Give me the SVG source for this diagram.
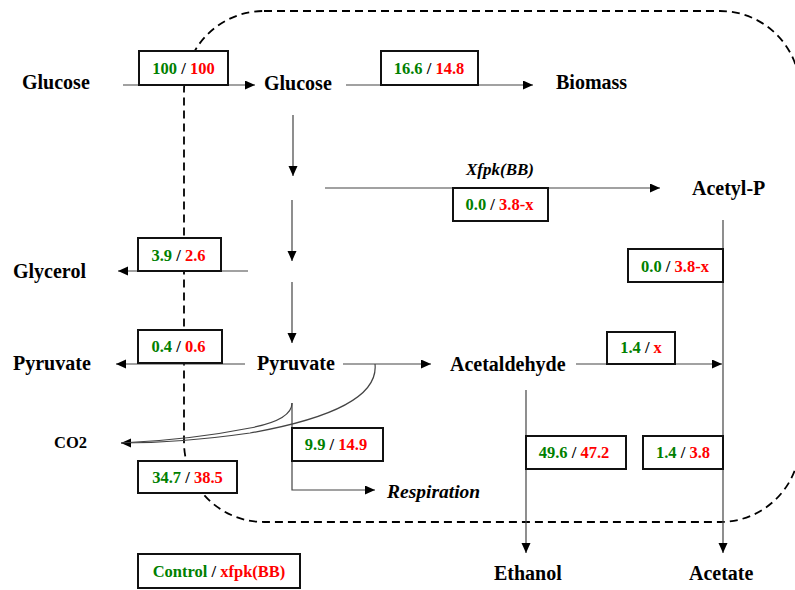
<svg xmlns="http://www.w3.org/2000/svg" width="795" height="590" viewBox="0 0 795 590">
<defs>
<style>
.lbl{font-family:"Liberation Serif","Times New Roman",serif;font-weight:bold;font-size:20px;fill:#000}
.it{font-style:italic;font-size:17px}
.num{font-family:"Liberation Serif","Times New Roman",serif;font-weight:bold;font-size:16.5px;text-anchor:middle;fill:#000}
.g{fill:#008000}
.r{fill:#ff0000}
.box{fill:#fff;stroke:#111;stroke-width:2}
.ln{fill:none;stroke:#444;stroke-width:1.2}
.cell{fill:none;stroke:#000;stroke-width:1.8;stroke-dasharray:8 5}
</style>
<marker id="ah" markerUnits="userSpaceOnUse" markerWidth="10" markerHeight="10" refX="10" refY="4.5" orient="auto">
<path d="M0,0 L10,4.5 L0,9 z" fill="#000"/>
</marker>
</defs>
<rect width="795" height="590" fill="#fff"/>
<rect id="cell" class="cell" x="184" y="11" width="616" height="511" rx="80" ry="80"/>
<g id="connectors">
<line class="ln" x1="123" y1="85" x2="255" y2="85" marker-end="url(#ah)"/>
<line class="ln" x1="346" y1="85" x2="533" y2="85" marker-end="url(#ah)"/>
<line class="ln" x1="293" y1="115" x2="293" y2="176" marker-end="url(#ah)"/>
<line class="ln" x1="325" y1="188" x2="660" y2="188" marker-end="url(#ah)"/>
<line class="ln" x1="292" y1="200" x2="292" y2="261" marker-end="url(#ah)"/>
<line class="ln" x1="292" y1="282" x2="292" y2="343" marker-end="url(#ah)"/>
<line class="ln" x1="248" y1="271" x2="118" y2="271" marker-end="url(#ah)"/>
<line class="ln" x1="245" y1="364" x2="116" y2="364" marker-end="url(#ah)"/>
<line class="ln" x1="343" y1="364" x2="431" y2="364" marker-end="url(#ah)"/>
<line class="ln" x1="576" y1="364" x2="722" y2="364" marker-end="url(#ah)"/>
<line class="ln" x1="723" y1="220" x2="723" y2="553" marker-end="url(#ah)"/>
<line class="ln" x1="526" y1="390" x2="526" y2="553" marker-end="url(#ah)"/>
<path class="ln" d="M292,403 L292,490 L375,490" marker-end="url(#ah)"/>
<path class="ln" d="M375,364 Q380,410 250,433 Q180,443 121,443" marker-end="url(#ah)"/>
<path class="ln" d="M292,403 Q292,420 250,428 Q190,440 121,443"/>
</g>
<g id="glucose-ext"><text class="lbl" x="22" y="89">Glucose</text></g>
<g id="glucose-int"><text class="lbl" x="264" y="90">Glucose</text></g>
<g id="biomass"><text class="lbl" x="556" y="89">Biomass</text></g>
<g id="acetyl-p"><text class="lbl" x="692" y="195">Acetyl-P</text></g>
<g id="glycerol"><text class="lbl" x="13" y="278">Glycerol</text></g>
<g id="pyruvate-ext"><text class="lbl" x="13" y="370">Pyruvate</text></g>
<g id="pyruvate-int"><text class="lbl" x="257" y="370">Pyruvate</text></g>
<g id="acetaldehyde"><text class="lbl" x="450" y="371">Acetaldehyde</text></g>
<g id="co2"><text class="lbl" x="54" y="448" style="font-size:16.5px">CO2</text></g>
<g id="respiration"><text class="lbl it" x="387" y="498" style="font-size:19.5px">Respiration</text></g>
<g id="ethanol"><text class="lbl" x="494" y="580">Ethanol</text></g>
<g id="acetate"><text class="lbl" x="689" y="580">Acetate</text></g>
<g id="xfpk-label"><text class="lbl it" x="466" y="175">Xfpk(BB)</text></g>
<g id="f-uptake"><rect class="box" x="139" y="51" width="89" height="34"/><text class="num" x="183.5" y="74"><tspan class="g">100</tspan> / <tspan class="r">100</tspan></text></g>
<g id="f-biomass"><rect class="box" x="381" y="51" width="97" height="34"/><text class="num" x="429" y="74"><tspan class="g">16.6</tspan> / <tspan class="r">14.8</tspan></text></g>
<g id="f-xfpk"><rect class="box" x="453" y="188" width="95" height="33"/><text class="num" x="499.5" y="210"><tspan class="g">0.0</tspan> / <tspan class="r">3.8-x</tspan></text></g>
<g id="f-acetylp"><rect class="box" x="628" y="249" width="95" height="33"/><text class="num" x="675" y="272"><tspan class="g">0.0</tspan> / <tspan class="r">3.8-x</tspan></text></g>
<g id="f-glycerol"><rect class="box" x="138" y="238" width="83" height="33"/><text class="num" x="178.5" y="261"><tspan class="g">3.9</tspan> / <tspan class="r">2.6</tspan></text></g>
<g id="f-pyruvate"><rect class="box" x="138" y="330" width="84" height="33"/><text class="num" x="178.5" y="352"><tspan class="g">0.4</tspan> / <tspan class="r">0.6</tspan></text></g>
<g id="f-acald"><rect class="box" x="607" y="332" width="68" height="32"/><text class="num" x="641" y="353"><tspan class="g">1.4</tspan> / <tspan class="r">x</tspan></text></g>
<g id="f-resp"><rect class="box" x="292" y="428" width="91" height="33"/><text class="num" x="336" y="450"><tspan class="g">9.9</tspan> / <tspan class="r">14.9</tspan></text></g>
<g id="f-co2"><rect class="box" x="138" y="461" width="99" height="32"/><text class="num" x="187.5" y="483"><tspan class="g">34.7</tspan> / <tspan class="r">38.5</tspan></text></g>
<g id="f-ethanol"><rect class="box" x="526" y="436" width="100" height="33"/><text class="num" x="574" y="458"><tspan class="g">49.6</tspan> / <tspan class="r">47.2</tspan></text></g>
<g id="f-acetate"><rect class="box" x="643" y="436" width="80" height="33"/><text class="num" x="683" y="458"><tspan class="g">1.4</tspan> / <tspan class="r">3.8</tspan></text></g>
<g id="legend"><rect class="box" x="138" y="554" width="162" height="34"/><text class="num" x="219" y="577"><tspan class="g">Control</tspan> / <tspan class="r">xfpk(BB)</tspan></text></g>
</svg>
